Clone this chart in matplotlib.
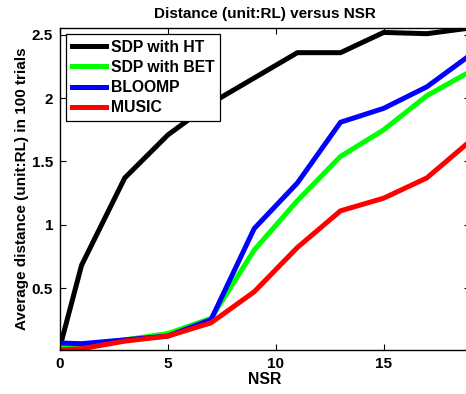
import matplotlib
matplotlib.use('Agg')
import matplotlib.pyplot as plt

plt.rcParams['font.family'] = ['Liberation Sans', 'DejaVu Sans']
plt.rcParams['font.weight'] = 'bold'

# NSR values (x) and average distance for each method
nsr = [0, 1, 3, 5, 7, 9, 11, 13, 15, 17, 19]
sdp_ht = [0.035, 0.68, 1.37, 1.71, 1.96, 2.16, 2.36, 2.36, 2.52, 2.51, 2.555]
sdp_bet = [0.03, 0.05, 0.09, 0.14, 0.26, 0.80, 1.19, 1.54, 1.75, 2.02, 2.21]
bloomp = [0.065, 0.06, 0.09, 0.12, 0.25, 0.97, 1.33, 1.81, 1.92, 2.09, 2.34]
music = [0.01, 0.02, 0.08, 0.12, 0.225, 0.47, 0.82, 1.11, 1.21, 1.37, 1.66]

fig = plt.figure(figsize=(4.66, 3.94), dpi=100)
ax = fig.add_axes([60/466, 1 - 350/394, 410/466, 322/394])

lw = 3.6
ax.plot(nsr, sdp_ht, color='k', lw=lw, label='SDP with HT')
ax.plot(nsr, sdp_bet, color=(0, 1, 0), lw=lw, label='SDP with BET')
ax.plot(nsr, bloomp, color=(0, 0, 1), lw=lw, label='BLOOMP')
ax.plot(nsr, music, color=(1, 0, 0), lw=lw, label='MUSIC')

ax.set_xlim(0, 19)
ax.set_ylim(0.01, 2.555)
ax.set_xticks([0, 5, 10, 15])
ax.set_yticks([0.5, 1, 1.5, 2, 2.5])
ax.set_yticklabels(['0.5', '1', '1.5', '2', '2.5'])
ax.tick_params(direction='in', top=True, right=True, length=4, width=0.8,
               labelsize=11, pad=5)
for s in ax.spines.values():
    s.set_linewidth(1.0)

ax.set_title('Distance (unit:RL) versus NSR', fontsize=11, fontweight='bold', pad=7)
ax.set_xlabel('NSR', fontsize=11.3, fontweight='bold', labelpad=1)
ax.set_ylabel('Average distance (unit:RL) in 100 trials', fontsize=11,
              fontweight='bold', labelpad=2)

leg = ax.legend(loc='upper left', fontsize=11.3, handlelength=2.2,
                borderaxespad=0.4, fancybox=False, framealpha=1,
                edgecolor='k', borderpad=0.35, labelspacing=0.33,
                handletextpad=0.3)
leg.get_frame().set_linewidth(0.9)

fig.savefig('out.png', dpi=100)
